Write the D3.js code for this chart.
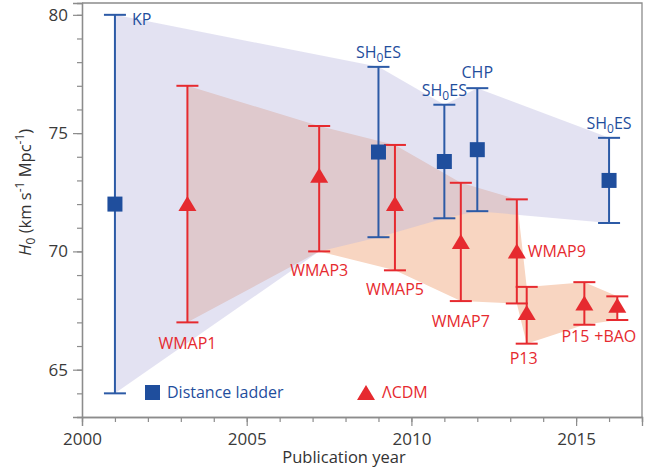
<!DOCTYPE html>
<html>
<head>
<meta charset="utf-8">
<script src="https://cdn.jsdelivr.net/npm/d3@7"></script>
<style>
  body { margin: 0; background: #fff; }
  text { font-family: "Open Sans", sans-serif; }
</style>
</head>
<body>
<div id="chart"></div>
<script>
// distance ladder measurements
const ladderYear  = [2001, 2009, 2011, 2012, 2016];
const ladderH     = [72.0, 74.2, 73.8, 74.3, 73.0];
const ladderLo    = [64.0, 70.6, 71.4, 71.7, 71.2];
const ladderHi    = [80.0, 77.8, 76.2, 76.9, 74.8];
const ladderLabel = ["KP", "SH0ES", "SH0ES", "CHP", "SH0ES"];

// LCDM (CMB) measurements
const cmbYear  = [2003.2, 2007.2, 2009.5, 2011.5, 2013.2, 2013.5, 2015.25, 2016.25];
const cmbH     = [72.0, 73.2, 72.0, 70.4, 70.0, 67.4, 67.8, 67.7];
const cmbLo    = [67.0, 70.0, 69.2, 67.9, 67.8, 66.1, 66.9, 67.1];
const cmbHi    = [77.0, 75.3, 74.5, 72.9, 72.2, 68.5, 68.7, 68.1];
const cmbLabel = ["WMAP1", "WMAP3", "WMAP5", "WMAP7", "WMAP9", "P13", "P15", "+BAO"];

// lower edge of the distance ladder band
const ladderBandLower = [[2001, 64.0], [2007.2, 70.0], [2009, 70.6], [2011, 71.4], [2012, 71.7], [2016, 71.2]];

const majorX = [2000, 2005, 2010, 2015];
const majorY = [65, 70, 75, 80];

const W = 662, H = 472;
const margin = { top: 3, right: 20, bottom: 55, left: 82 },
  width = W - margin.left - margin.right,
  height = H - margin.top - margin.bottom;

const blue = "#1f4e9d", red = "#e62a2f", grey = "#8c8c8c";

const svg = d3.select("#chart").append("svg")
  .attr("width", W).attr("height", H)
  .append("g")
  .attr("transform", `translate(${margin.left},${margin.top})`);

const x = d3.scaleLinear().domain([2000, 2017]).range([0, width]);
const y = d3.scaleLinear().domain([63, 80.5]).range([height, 0]);

// bands
const upperRed = cmbYear.map((d, i) => [d, cmbHi[i]]);
const lowerRed = cmbYear.map((d, i) => [d, cmbLo[i]]).reverse();
const upperBlue = ladderYear.map((d, i) => [d, ladderHi[i]]);
const lowerBlue = ladderBandLower.slice().reverse();
const line = d3.line().x(d => x(d[0])).y(d => y(d[1]));

svg.append("path")
  .attr("d", line(upperRed.concat(lowerRed)) + "Z")
  .attr("fill", "#f8d5c1");

svg.append("path")
  .attr("d", line(upperBlue.concat(lowerBlue)) + "Z")
  .attr("fill", "rgb(186,182,222)")
  .attr("fill-opacity", 0.4);

// axes
svg.append("g").attr("transform", `translate(0,${height})`)
  .call(d3.axisBottom(x).tickValues(majorX).tickSize(9).tickPadding(7).tickFormat(d3.format("d")));
svg.append("g").attr("transform", `translate(0,${height})`)
  .call(d3.axisBottom(x).tickValues(d3.range(2001, 2018)).tickSize(5).tickFormat(""));
svg.append("g")
  .call(d3.axisLeft(y).tickValues(majorY).tickSize(9).tickPadding(5));
svg.append("g")
  .call(d3.axisLeft(y).tickValues(d3.range(64, 81)).tickSize(5).tickFormat(""));

svg.selectAll(".domain").attr("stroke", grey).attr("stroke-width", 1.3);
svg.selectAll(".tick line").attr("stroke", grey).attr("stroke-width", 1.2);
svg.selectAll(".tick text").attr("fill", "#3a3a3a").style("font-size", "17px")
  .style("font-family", "'Open Sans', sans-serif");

// frame top / right
svg.append("path")
  .attr("d", `M0,0H${width}V${height}`)
  .attr("fill", "none").attr("stroke", grey).attr("stroke-width", 1.3);

// error bars
function errorBars(years, lo, hi, color) {
  const g = svg.append("g").attr("stroke", color).attr("stroke-width", 2).attr("fill", "none");
  years.forEach((yr, i) => {
    const cx = x(yr);
    g.append("line").attr("x1", cx).attr("x2", cx).attr("y1", y(lo[i])).attr("y2", y(hi[i]));
    g.append("line").attr("x1", cx - 11).attr("x2", cx + 11).attr("y1", y(lo[i])).attr("y2", y(lo[i]));
    g.append("line").attr("x1", cx - 11).attr("x2", cx + 11).attr("y1", y(hi[i])).attr("y2", y(hi[i]));
  });
}
errorBars(ladderYear, ladderLo, ladderHi, "#2c5aa6");
errorBars(cmbYear, cmbLo, cmbHi, red);

// markers
svg.selectAll(".sq").data(ladderYear).enter().append("rect")
  .attr("x", d => x(d) - 7.5)
  .attr("y", (d, i) => y(ladderH[i]) - 7.5)
  .attr("width", 15).attr("height", 15)
  .attr("fill", blue);

const tri = "M0,-8L9,7L-9,7Z";
svg.selectAll(".tri").data(cmbYear).enter().append("path")
  .attr("d", tri)
  .attr("transform", (d, i) => `translate(${x(d)},${y(cmbH[i])})`)
  .attr("fill", red);

// labels
function addLabel(txt, px, py, color, anchor) {
  const t = svg.append("text")
    .attr("x", px).attr("y", py)
    .attr("fill", color)
    .attr("text-anchor", anchor || "middle")
    .style("font-size", "16px");
  if (txt === "SH0ES") {
    t.append("tspan").text("SH");
    t.append("tspan").text("0").attr("dy", 4).style("font-size", "12px");
    t.append("tspan").text("ES").attr("dy", -4);
  } else {
    t.text(txt);
  }
}

// label offsets (pixels) relative to each bar's upper cap
const ladderLabelPos = [[17, 10], [0, -9], [0, -9], [0, -10], [0, -9]];
ladderLabel.forEach((lab, i) => {
  const off = ladderLabelPos[i];
  const anchor = i === 0 ? "start" : "middle";
  addLabel(lab, x(ladderYear[i]) + off[0], y(ladderHi[i]) + off[1], blue, anchor);
});

// label offsets relative to each bar's lower cap
const cmbLabelPos = [[0, 27], [0, 25], [0, 25], [0, 26], [11, -46], [-3, 20], [-9, 17], [-2, 22]];
cmbLabel.forEach((lab, i) => {
  const off = cmbLabelPos[i];
  const anchor = i === 4 ? "start" : "middle";
  addLabel(lab, x(cmbYear[i]) + off[0], y(cmbLo[i]) + off[1], red, anchor);
});

// legend
svg.append("rect").attr("x", 63).attr("y", 382).attr("width", 15).attr("height", 15).attr("fill", blue);
svg.append("text").attr("x", 85).attr("y", 395).attr("fill", blue).style("font-size", "16px").text("Distance ladder");
svg.append("path").attr("d", tri).attr("transform", "translate(284,390)").attr("fill", red);
svg.append("text").attr("x", 300).attr("y", 395).attr("fill", red).style("font-size", "16px").text("\u039BCDM");

// axis titles
svg.append("text")
  .attr("x", width / 2 - 18).attr("y", height + 46)
  .attr("text-anchor", "middle").attr("fill", "#333")
  .style("font-size", "16.5px")
  .text("Publication year");

const yl = svg.append("text")
  .attr("transform", `translate(${-margin.left + 31},${y(72.5)}) rotate(-90)`)
  .attr("text-anchor", "middle").attr("fill", "#333")
  .style("font-size", "16.5px");
yl.append("tspan").text("H").style("font-style", "italic");
yl.append("tspan").text("0").attr("dy", 4).style("font-size", "12px");
yl.append("tspan").text(" (km s").attr("dy", -4);
yl.append("tspan").text("-1").attr("dy", -7).style("font-size", "12px");
yl.append("tspan").text(" Mpc").attr("dy", 7);
yl.append("tspan").text("-1").attr("dy", -7).style("font-size", "12px");
yl.append("tspan").text(")").attr("dy", 7);
</script>
</body>
</html>
